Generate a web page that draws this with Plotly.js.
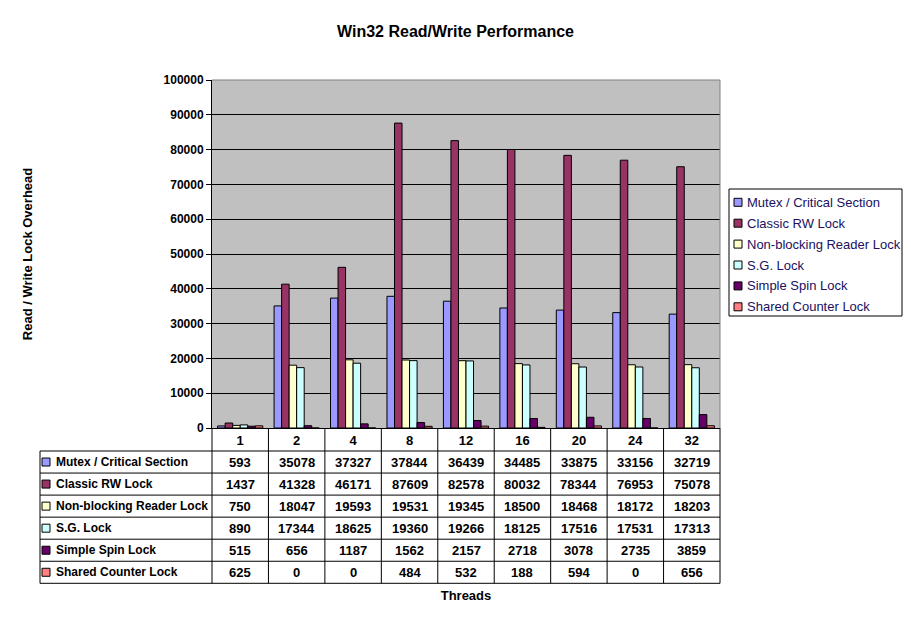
<!DOCTYPE html>
<html>
<head>
<meta charset="utf-8">
<script src="https://cdn.plot.ly/plotly-3.0.1.min.js"></script>
<style>
  html, body { margin: 0; padding: 0; background: #fff; }
  #chart { width: 911px; height: 623px; }
</style>
</head>
<body>
<div id="chart"></div>
<script>
const threads = ['1', '2', '4', '8', '12', '16', '20', '24', '32']
const seriesNames = [
  'Mutex / Critical Section',
  'Classic RW Lock',
  'Non-blocking Reader Lock',
  'S.G. Lock',
  'Simple Spin Lock',
  'Shared Counter Lock',
]
const mutex = [593, 35078, 37327, 37844, 36439, 34485, 33875, 33156, 32719]
const classicRw = [1437, 41328, 46171, 87609, 82578, 80032, 78344, 76953, 75078]
const nonBlocking = [750, 18047, 19593, 19531, 19345, 18500, 18468, 18172, 18203]
const sgLock = [890, 17344, 18625, 19360, 19266, 18125, 17516, 17531, 17313]
const simpleSpin = [515, 656, 1187, 1562, 2157, 2718, 3078, 2735, 3859]
const sharedCounter = [625, 0, 0, 484, 532, 188, 594, 0, 656]
const series = [mutex, classicRw, nonBlocking, sgLock, simpleSpin, sharedCounter]
const colors = ['#9999FF', '#993366', '#FFFFCC', '#CCFFFF', '#660066', '#FF8080']

const FONT = 'Liberation Sans, Arial, sans-serif'

// plot area in pixels, the table hangs below it, legend sits to the right
const L = 212, R = 720, T = 80, B = 428
const plotW = R - L, plotH = B - T
const px = p => (p - L) / plotW
const py = p => (B - p) / plotH
const tableLeft = 40
const headerBottom = 451
const rowH = 22.05
const tableBottom = headerBottom + rowH * seriesNames.length
const legendBox = { x0: 729, x1: 902, y0: 189, y1: 316 }
const legendRowH = 20.9

const data = series.map((vals, i) => ({
  type: 'bar',
  name: seriesNames[i],
  x: threads,
  y: vals,
  marker: { color: colors[i], line: { color: '#000', width: 1 } },
  hoverinfo: 'skip',
}))

const shapes = []
const annotations = []
const line = (x0, y0, x1, y1, xref, color) => shapes.push({
  type: 'line', xref: xref || 'paper', yref: 'paper',
  x0, y0, x1, y1, line: { color: color || '#000', width: 1 },
})
const swatch = (x0, x1, yc, color) => shapes.push({
  type: 'rect', xref: 'paper', yref: 'paper',
  x0: px(x0), x1: px(x1), y0: py(yc - 4), y1: py(yc + 4),
  fillcolor: color, line: { color: '#000', width: 1 },
})

// table grid
for (let i = 0; i <= seriesNames.length; i++) {
  const y = py(headerBottom + i * rowH)
  line(px(tableLeft), y, 1, y)
}
line(px(tableLeft), py(headerBottom), px(tableLeft), py(tableBottom))
line(0, 0, 0, py(tableBottom))
line(1, 0, 1, py(tableBottom))
threads.slice(1).forEach((_, k) => line(k + 0.5, 0, k + 0.5, py(tableBottom), 'x'))

// plot area border (top / right)
line(0, 1, 1, 1, 'paper', '#808080')
line(1, 0, 1, 1, 'paper', '#808080')

// legend box
shapes.push({
  type: 'rect', xref: 'paper', yref: 'paper',
  x0: px(legendBox.x0), x1: px(legendBox.x1), y0: py(legendBox.y0), y1: py(legendBox.y1),
  fillcolor: '#fff', line: { color: '#000', width: 1 },
})

seriesNames.forEach((name, i) => {
  // table row
  const yc = headerBottom + rowH * (i + 0.5)
  swatch(42, 50, yc, colors[i])
  annotations.push({
    xref: 'paper', yref: 'paper', x: px(54), y: py(yc),
    xanchor: 'left', yanchor: 'middle', showarrow: false,
    text: name, font: { family: FONT, size: 12, color: '#000', weight: 'bold' },
  })
  series[i].forEach((v, j) => annotations.push({
    xref: 'x', yref: 'paper', x: j, y: py(yc),
    xanchor: 'center', yanchor: 'middle', showarrow: false,
    text: String(v), font: { family: FONT, size: 13, color: '#000', weight: 'bold' },
  }))

  // legend entry
  const ly = 202.3 + legendRowH * i
  swatch(734, 742, ly, colors[i])
  annotations.push({
    xref: 'paper', yref: 'paper', x: px(745), y: py(ly),
    xanchor: 'left', yanchor: 'middle', showarrow: false,
    text: name, font: { family: FONT, size: 13, color: '#201060' },
  })
})

const layout = {
  width: 911,
  height: 623,
  margin: { l: L, r: 911 - R, t: T, b: 623 - B, pad: 0, autoexpand: false },
  paper_bgcolor: '#fff',
  plot_bgcolor: '#C0C0C0',
  font: { family: FONT, size: 12, color: '#000' },
  title: {
    text: 'Win32 Read/Write Performance',
    font: { family: FONT, size: 16, color: '#000', weight: 'bold' },
    x: 0.5, xref: 'container', xanchor: 'center',
    y: 1 - 31 / 623, yref: 'container', yanchor: 'middle',
  },
  barmode: 'group',
  bargap: 0.2,
  bargroupgap: 0,
  showlegend: false,
  xaxis: {
    type: 'category',
    showline: true, linecolor: '#000', linewidth: 1,
    ticks: '', showgrid: false,
    tickfont: { family: FONT, size: 13, color: '#000', weight: 'bold' },
    title: {
      text: 'Threads', standoff: 144,
      font: { family: FONT, size: 13, color: '#000', weight: 'bold' },
    },
    fixedrange: true,
  },
  yaxis: {
    range: [0, 100000], dtick: 10000, tickformat: 'd',
    showline: true, linecolor: '#000', linewidth: 1,
    ticks: 'outside', ticklen: 5, tickcolor: '#000',
    showgrid: true, gridcolor: '#000', gridwidth: 1, zeroline: false,
    tickfont: { family: FONT, size: 12, color: '#000', weight: 'bold' },
    title: {
      text: 'Read / Write Lock Overhead', standoff: 128,
      font: { family: FONT, size: 13, color: '#000', weight: 'bold' },
    },
    fixedrange: true,
  },
  shapes,
  annotations,
}

Plotly.newPlot('chart', data, layout, { displayModeBar: false, staticPlot: true })
</script>
</body>
</html>
